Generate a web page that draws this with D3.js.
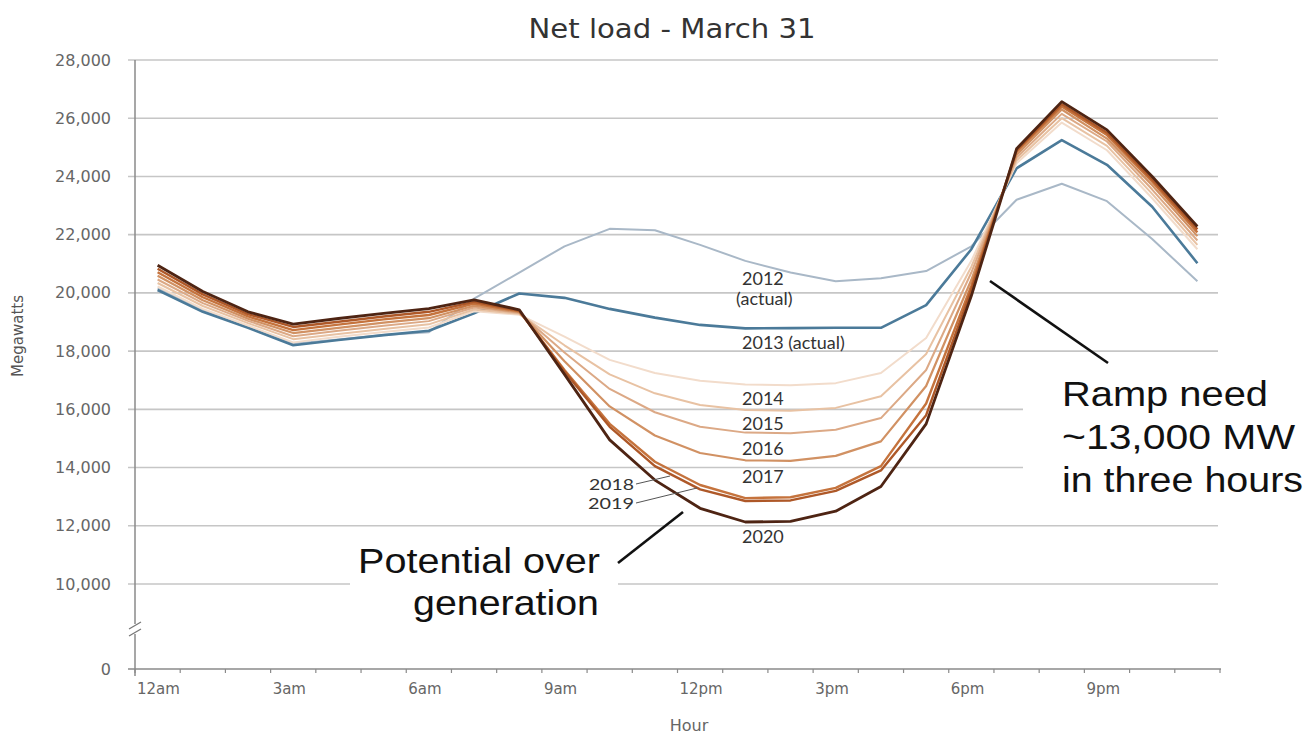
<!DOCTYPE html>
<html><head><meta charset="utf-8">
<script src="https://cdn.jsdelivr.net/npm/d3@7"></script>
<style>body{margin:0;background:#fff;} svg{display:block;}</style>
</head><body><svg id="c" width="1309" height="738"></svg>
<script>
// ---------- data ----------
const hours = [0,1,2,3,4,5,6,7,8,9,10,11,12,13,14,15,16,17,18,19,20,21,22,23];
const hourTicks = [0,3,6,9,12,15,18,21];
const hourTickLabels = ["12am","3am","6am","9am","12pm","3pm","6pm","9pm"];
const yTicks = [0,10000,12000,14000,16000,18000,20000,22000,24000,26000,28000];
const years = ["2012","2013","2014","2015","2016","2017","2018","2019","2020"];

const s2012 = [20150,19400,18850,18250,18400,18550,18650,19800,20700,21600,22200,22150,21650,21100,20700,20400,20500,20750,21600,23200,23750,23150,21850,20400];
const s2013 = [20100,19350,18800,18200,18380,18550,18700,19300,19980,19830,19450,19150,18900,18780,18790,18800,18800,19580,21500,24280,25250,24400,22960,21020];
const s2014 = [20220,19450,18880,18300,18490,18660,18810,19370,19250,18500,17700,17250,16980,16850,16830,16900,17250,18450,21100,24450,25850,24900,23250,21500];
const s2015 = [20340,19550,18960,18410,18590,18760,18920,19430,19280,18200,17200,16550,16150,15980,15950,16050,16450,17900,20900,24550,26000,25050,23400,21650];
const s2016 = [20460,19650,19040,18510,18700,18870,19030,19500,19310,17950,16700,15900,15400,15200,15180,15300,15700,17350,20700,24650,26150,25200,23550,21800];
const s2017 = [20590,19750,19110,18620,18800,18980,19130,19560,19340,17650,16100,15100,14500,14250,14230,14400,14900,16800,20450,24750,26300,25300,23700,21950];
const s2018 = [20710,19850,19190,18720,18910,19090,19240,19630,19370,17350,15500,14200,13400,12950,12980,13300,14050,16200,20250,24850,26400,25420,23820,22080];
const s2019 = [20830,19950,19270,18830,19010,19190,19350,19690,19390,17300,15400,14050,13250,12850,12870,13200,13900,15800,20100,24900,26480,25500,23900,22180];
const s2020 = [20950,20050,19350,18930,19120,19300,19460,19760,19420,17200,14950,13570,12600,12130,12150,12500,13350,15500,19900,24950,26570,25600,24000,22280];
const seriesValues = [s2012,s2013,s2014,s2015,s2016,s2017,s2018,s2019,s2020];

// ---------- styles ----------
const colors = ["#a9b8c7","#4b7a99","#f2dccb","#e8c2a3","#dca986","#d19163","#c5733d","#ae5828","#4e2413"];
const widths = [2,2.6,2,2,2,2.2,2.4,2.4,2.8];

const svg = d3.select("#c");
const x = d3.scaleLinear().domain([0,24]).range([135,1220]);
const y = d3.scaleLinear().domain([0,10000,28000]).range([669,584,60]);

const tickFont = "'DejaVu Sans', sans-serif";

// gridlines
svg.append("g").selectAll("line").data(yTicks.filter(v=>v>0)).join("line")
  .attr("x1",128).attr("x2",1218)
  .attr("y1",d=>y(d)).attr("y2",d=>y(d))
  .attr("stroke","#c6c6c6").attr("stroke-width",1.6);

// y tick labels
svg.append("g").selectAll("text").data(yTicks).join("text")
  .attr("x",111).attr("y",d=>y(d)+5.5)
  .attr("text-anchor","end")
  .attr("font-family",tickFont).attr("font-size",16).attr("fill","#666")
  .text(d=>d3.format(",")(d));

// axes
svg.append("line").attr("x1",135).attr("x2",135).attr("y1",y(28000)).attr("y2",676)
  .attr("stroke","#8a8a8a").attr("stroke-width",1.5);
svg.append("line").attr("x1",128).attr("x2",1221).attr("y1",y(0)).attr("y2",y(0))
  .attr("stroke","#8a8a8a").attr("stroke-width",1.5);
svg.append("g").selectAll("line").data([...hours,24]).join("line")
  .attr("x1",d=>x(d)).attr("x2",d=>x(d))
  .attr("y1",y(0)).attr("y2",y(0)+4)
  .attr("stroke","#8a8a8a").attr("stroke-width",1.2);

// axis break
svg.append("rect").attr("x",129).attr("y",624).attr("width",12).attr("height",10).attr("fill","#fff");
svg.append("line").attr("x1",129).attr("y1",629).attr("x2",141).attr("y2",622).attr("stroke","#777").attr("stroke-width",1.3);
svg.append("line").attr("x1",129).attr("y1",636).attr("x2",141).attr("y2",629).attr("stroke","#777").attr("stroke-width",1.3);

// x tick labels
svg.append("g").selectAll("text").data(hourTicks).join("text")
  .attr("x",d=>x(d)+2).attr("y",694)
  .attr("font-family",tickFont).attr("font-size",15).attr("fill","#666")
  .text((d,i)=>hourTickLabels[i]);

// axis titles
svg.append("text").attr("x",689).attr("y",731).attr("text-anchor","middle")
  .attr("font-family",tickFont).attr("font-size",16).attr("fill","#666").text("Hour");
svg.append("text").attr("transform","translate(23,336) rotate(-90)").attr("text-anchor","middle")
  .attr("font-family",tickFont).attr("font-size",15).attr("fill","#555").text("Megawatts");

// title
svg.append("text").attr("x",672).attr("y",38).attr("text-anchor","middle")
  .attr("font-family",tickFont).attr("font-size",26).attr("fill","#333")
  .attr("textLength",287).attr("lengthAdjust","spacingAndGlyphs")
  .text("Net load - March 31");

// white boxes behind annotation text
svg.append("rect").attr("x",350).attr("y",540).attr("width",268).attr("height",88).attr("fill","#fff");
svg.append("rect").attr("x",1023).attr("y",372).attr("width",286).attr("height",128).attr("fill","#fff");

// series lines
const line = d3.line().x((d,i)=>x(hours[i]+0.5)).y(d=>y(d));
svg.append("g").selectAll("path").data(seriesValues).join("path")
  .attr("d",d=>line(d))
  .attr("fill","none")
  .attr("stroke",(d,i)=>colors[i])
  .attr("stroke-width",(d,i)=>widths[i])
  .attr("stroke-linejoin","round");

// year labels
const labFont = "Lato, 'DejaVu Sans', sans-serif";
const yearLabels = [
  {t:"2012", x:742, y:285, s:18},
  {t:"(actual)", x:736, y:305, s:18},
  {t:"2013 (actual)", x:742, y:349, s:18},
  {t:"2014", x:742, y:405, s:18},
  {t:"2015", x:742, y:430, s:18},
  {t:"2016", x:742, y:455, s:18},
  {t:"2017", x:742, y:483, s:18},
  {t:"2020", x:742, y:543, s:18},
  {t:"2018", x:589, y:490, s:16, w:45},
  {t:"2019", x:588, y:509, s:16, w:46}
];
svg.append("g").selectAll("text").data(yearLabels).join("text")
  .attr("x",d=>d.x).attr("y",d=>d.y)
  .attr("font-family",labFont).attr("font-size",d=>d.s).attr("fill","#333")
  .attr("textLength",d=>d.w ? d.w : null)
  .attr("lengthAdjust",d=>d.w ? "spacingAndGlyphs" : null)
  .text(d=>d.t);
svg.append("line").attr("x1",636).attr("y1",484).attr("x2",670).attr("y2",476).attr("stroke","#555").attr("stroke-width",1);
svg.append("line").attr("x1",636).attr("y1",503).attr("x2",697).attr("y2",488).attr("stroke","#555").attr("stroke-width",1);

// annotations
const annFont = "'Liberation Sans', Arial, sans-serif";
svg.append("text").attr("x",358).attr("y",573).attr("font-family",annFont).attr("font-size",35).attr("fill","#111")
  .attr("textLength",242).attr("lengthAdjust","spacingAndGlyphs").text("Potential over");
svg.append("text").attr("x",413).attr("y",615).attr("font-family",annFont).attr("font-size",35).attr("fill","#111")
  .attr("textLength",186).attr("lengthAdjust","spacingAndGlyphs").text("generation");
svg.append("line").attr("x1",618).attr("y1",563).attr("x2",683).attr("y2",512).attr("stroke","#111").attr("stroke-width",2.6);

const ramp = ["Ramp need","~13,000 MW","in three hours"];
const rampW = [206,233,241];
svg.append("g").selectAll("text").data(ramp).join("text")
  .attr("x",1062).attr("y",(d,i)=>406+i*43)
  .attr("font-family",annFont).attr("font-size",35).attr("fill","#111")
  .attr("textLength",(d,i)=>rampW[i]).attr("lengthAdjust","spacingAndGlyphs")
  .text(d=>d);
svg.append("line").attr("x1",990).attr("y1",281).attr("x2",1108).attr("y2",363).attr("stroke","#111").attr("stroke-width",2.6);
</script></body></html>
